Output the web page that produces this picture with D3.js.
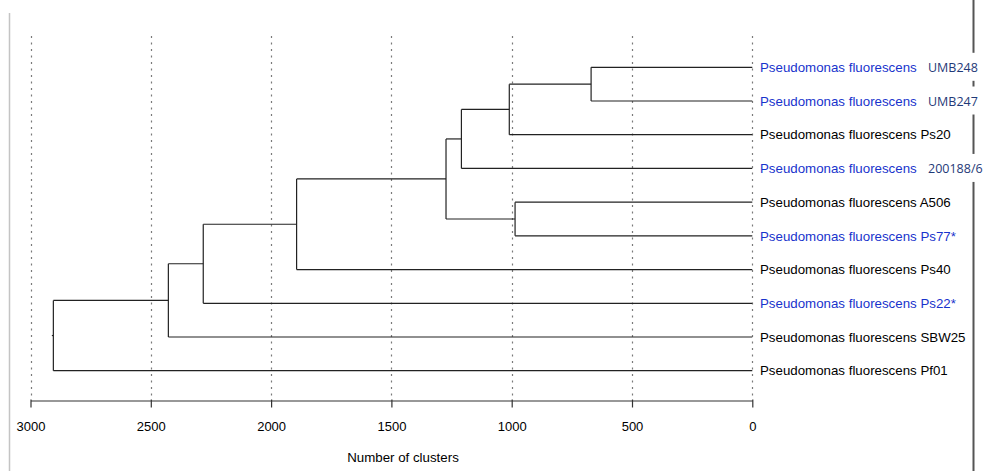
<!DOCTYPE html>
<html>
<head>
<meta charset="utf-8">
<script src="https://cdn.jsdelivr.net/npm/d3@7"></script>
<style>
  body { margin: 0; background: #fff; }
  svg { display: block; }
  text { font-family: "Liberation Sans", Arial, Helvetica, sans-serif; }
</style>
</head>
<body>
<div id="grafica"></div>
<script>
// hojas del dendrograma (orden de arriba abajo)
const species = "Pseudomonas fluorescens";
const strains = ["UMB248", "UMB247", "Ps20", "200188/6", "A506", "Ps77*", "Ps40", "Ps22*", "SBW25", "Pf01"];
const highlighted = [true, true, false, true, false, true, false, true, false, false];
// cepas cuyo nombre aparece pegado encima con otra fuente
const pasted = [true, true, false, true, false, false, false, false, false, false];

// uniones: [a, b, altura]; indices >= 10 son clusters anteriores
const merges = [
  [0, 1, 670],
  [10, 2, 1010],
  [11, 3, 1209],
  [4, 5, 986],
  [12, 13, 1273],
  [14, 6, 1894],
  [15, 7, 2282],
  [16, 8, 2427],
  [17, 9, 2905]
];

const tickValues = [3000, 2500, 2000, 1500, 1000, 500, 0];
const axisTitle = "Number of clusters";

const width = 983, height = 471;

const svg = d3.select("#grafica")
  .append("svg")
  .attr("width", width)
  .attr("height", height);

const x = d3.scaleLinear().domain([3000, 0]).range([30.5, 752.3]);
const y = d3.scaleLinear().domain([0, strains.length - 1]).range([67.3, 370.7]);

// construir el arbol a partir de las uniones
const nodes = strains.map((s, i) => ({ name: s, index: i, height: 0 }));
merges.forEach(m => {
  nodes.push({ children: [nodes[m[0]], nodes[m[1]]], height: m[2] });
});
const root = d3.hierarchy(nodes[nodes.length - 1]);
root.eachAfter(d => {
  if (d.children) {
    d.py = d3.mean(d.children, c => c.py);
  } else {
    d.py = y(d.data.index);
  }
  d.px = x(d.data.height);
});

// borde gris de la izquierda
svg.append("line")
  .attr("x1", 9.5).attr("x2", 9.5)
  .attr("y1", 13).attr("y2", height)
  .attr("stroke", "#c4c4c4")
  .attr("stroke-width", 1.5);

// linea vertical oscura de la derecha
svg.append("line")
  .attr("x1", 973.5).attr("x2", 973.5)
  .attr("y1", 0).attr("y2", height)
  .attr("stroke", "#555")
  .attr("stroke-width", 2);

// rejilla punteada
svg.append("g")
  .selectAll("line")
  .data(tickValues)
  .join("line")
  .attr("x1", d => Math.round(x(d)) + 0.5)
  .attr("x2", d => Math.round(x(d)) + 0.5)
  .attr("y1", 36)
  .attr("y2", 400)
  .attr("stroke", "#7a7a7a")
  .attr("stroke-width", 1.2)
  .attr("stroke-dasharray", "2,4.5");

// eje inferior
const axis = svg.append("g")
  .attr("transform", "translate(0,400.5)")
  .call(d3.axisBottom(x).tickValues(tickValues).tickFormat(d3.format("d")).tickSize(7).tickSizeOuter(0));
axis.select(".domain").attr("stroke", "#333").attr("stroke-width", 1.2);
axis.selectAll(".tick line").attr("stroke", "#333").attr("stroke-width", 1.2).attr("y1", -1);
axis.selectAll(".tick text")
  .attr("y", 30)
  .attr("dy", 0)
  .attr("fill", "#000")
  .style("font-family", "'Liberation Sans', Arial, sans-serif")
  .style("font-size", "13px");

svg.append("text")
  .attr("x", 403)
  .attr("y", 462)
  .attr("text-anchor", "middle")
  .attr("fill", "#000")
  .style("font-size", "13.3px")
  .text(axisTitle);

// ramas del dendrograma
const links = svg.append("g")
  .attr("fill", "none")
  .attr("stroke", "#222")
  .attr("stroke-width", 1.2);

root.each(d => {
  if (!d.children) return;
  const ys = d.children.map(c => c.py);
  links.append("path")
    .attr("d", `M${d.px},${d3.min(ys)}V${d3.max(ys)}`);
  d.children.forEach(c => {
    links.append("path").attr("d", `M${d.px},${c.py}H${c.px}`);
  });
});
// pequeño trazo de la raiz
links.append("path").attr("d", `M${root.px},${root.py}h-1.5`);

// etiquetas de las hojas
const leaves = root.leaves();
const labels = svg.append("g");
leaves.forEach(d => {
  const i = d.data.index;
  const color = highlighted[i] ? "#1833cc" : "#000";
  if (pasted[i]) {
    labels.append("text")
      .attr("x", 760).attr("y", d.py).attr("dy", "0.35em")
      .attr("fill", color)
      .style("font-size", "13.3px")
      .text(species);
    labels.append("rect")
      .attr("x", 924).attr("y", d.py - 14.5)
      .attr("width", width - 924).attr("height", 28)
      .attr("fill", "#fff");
    labels.append("text")
      .attr("x", 928).attr("y", d.py).attr("dy", "0.36em")
      .attr("fill", "#1f3a78")
      .style("font-family", "'Open Sans', 'Noto Sans', sans-serif")
      .style("font-size", "12.5px")
      .text(strains[i]);
  } else {
    labels.append("text")
      .attr("x", 760).attr("y", d.py).attr("dy", "0.35em")
      .attr("fill", color)
      .style("font-size", "13.3px")
      .text(species + " " + strains[i]);
  }
});
</script>
</body>
</html>
